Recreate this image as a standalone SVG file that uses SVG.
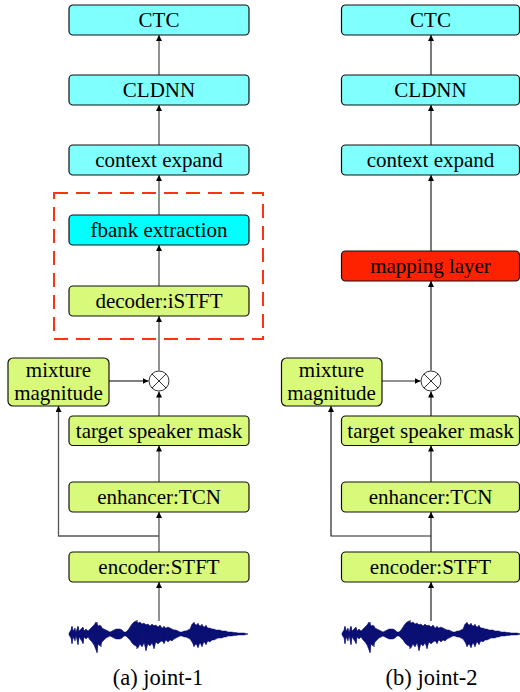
<svg xmlns="http://www.w3.org/2000/svg" width="520" height="692" viewBox="0 0 520 692">
<style>
.box{stroke:#111;stroke-width:1.2}
.cy{fill:#80FFFF}
.cy2{fill:#00FFFF}
.gr{fill:#D8F97A}
.rd{fill:#FF2200}
.cl{fill:none;stroke:#555;stroke-width:1.3}
.cr{fill:none;stroke:#222;stroke-width:1.2}
.mul{fill:#fff;stroke:#333;stroke-width:1}
.wave{fill:#0A0F73;stroke:#0A0F73;stroke-width:0.5;stroke-linejoin:round}
.sp{stroke:#0A0F73;stroke-width:1}
</style>
<defs>
<marker id="ah" viewBox="0 0 10 10" refX="10" refY="5" markerWidth="6" markerHeight="6" markerUnits="userSpaceOnUse" orient="auto">
<path d="M0,0 L10,5 L0,10 z" fill="#000"/>
</marker>
<g id="wv">
<path class="wave" d="M69,633 L71,630 L72,626 L73,631 L75,628 L76,632 L78,626 L79,631 L81,629 L83,627 L84,631 L86,629 L88,631 L90,629 L92,627 L94,625 L96,622 L97,624 L98,626 L100,625 L102,628 L104,629 L106,630 L108,631 L110,632 L112,631 L114,630 L116,629 L118,629 L120,629 L122,630 L124,632 L126,632 L128,630 L130,627 L132,624 L134,622 L136,621 L138,623 L140,622 L142,624 L144,623 L146,625 L148,624 L150,626 L152,624 L154,626 L156,625 L158,627 L160,625 L162,628 L164,627 L166,628 L168,627 L170,628 L172,629 L174,630 L176,630 L178,631 L180,632 L182,632 L184,631 L186,631 L188,630 L190,629 L192,624 L194,623 L196,625 L198,624 L200,626 L202,625 L204,627 L206,626 L208,628 L210,628 L212,629 L214,629 L216,630 L218,630 L220,630 L222,631 L224,631 L226,631 L228,632 L230,632 L232,632 L234,632.5 L236,632.5 L238,633 L240,633 L242,633 L244,633 L246,633.5 L248,634 L246,634.5 L244,635 L242,635 L240,635 L238,635 L236,635.5 L234,635.5 L232,636 L230,636 L228,636 L226,637 L224,637 L222,638 L220,638 L218,638 L216,639 L214,640 L212,640 L210,642 L208,641 L206,644 L204,642 L202,646 L200,643 L198,647 L196,644 L194,646 L192,642 L190,639 L188,638 L186,637 L184,637 L182,636 L180,636 L178,637 L176,638 L174,639 L172,641 L170,640 L168,642 L166,640 L164,643 L162,641 L160,642 L158,644 L156,642 L154,648 L152,643 L150,646 L148,644 L146,650 L144,643 L142,647 L140,644 L138,648 L136,646 L134,645 L132,643 L130,640 L128,638 L126,636 L124,636 L122,638 L120,639 L118,639 L116,639 L114,638 L112,637 L110,636 L108,637 L106,638 L104,640 L102,642 L100,646 L98,644 L97,652 L96,650 L94,645 L92,642 L90,640 L88,637 L86,639 L84,637 L83,643 L81,640 L79,637 L78,644 L76,636 L75,641 L73,637 L72,643 L71,638 L69,635 Z"/>
<path class="sp" d="M72,627 V644 M78,627 V645 M83,628 V644 M97,622 V653 M101,626 V647 M137,620 V649 M146,624 V651 M154,625 V649 M164,626 V644 M194,622 V647 M198,623 V648 M202,624 V647 M206,625 V645"/>
</g>
</defs>

<g id="connectors">
<g class="cl" marker-end="url(#ah)">
<line x1="159" y1="75" x2="159" y2="35"/>
<line x1="159" y1="145" x2="159" y2="105"/>
<line x1="159" y1="215" x2="159" y2="175"/>
<line x1="159" y1="286" x2="159" y2="245"/>
<line x1="159" y1="370.5" x2="159" y2="316"/>
<line x1="109" y1="381" x2="148.5" y2="381"/>
<line x1="159" y1="416" x2="159" y2="391.5"/>
<line x1="159" y1="482" x2="159" y2="445.5"/>
<line x1="159" y1="552" x2="159" y2="512"/>
<polyline points="159,536 58.5,536 58.5,406"/>
<line x1="159" y1="621" x2="159" y2="582"/>
</g>
<g class="cr" marker-end="url(#ah)">
<line x1="431" y1="75" x2="431" y2="35"/>
<line x1="431" y1="145" x2="431" y2="105"/>
<line x1="431" y1="251" x2="431" y2="175"/>
<line x1="431" y1="370.5" x2="431" y2="281"/>
<line x1="382" y1="381" x2="420.5" y2="381"/>
<line x1="431" y1="416" x2="431" y2="391.5"/>
<line x1="431" y1="482" x2="431" y2="445.5"/>
<line x1="431" y1="552" x2="431" y2="512"/>
<polyline points="431,536 331,536 331,406"/>
<line x1="431" y1="621" x2="431" y2="582"/>
</g>
</g>

<rect id="dashed-region" x="54" y="193" width="209" height="146" fill="none" stroke="#FF3311" stroke-width="2" stroke-dasharray="14 8"/>

<g font-family="Liberation Serif, Times New Roman, serif" font-size="21" text-anchor="middle" fill="#000">
<!-- left column -->
<g id="a-ctc"><rect class="box cy" x="69" y="5" width="180" height="30" rx="4"/><text x="159" y="27">CTC</text></g>
<g id="a-cldnn"><rect class="box cy" x="69" y="75" width="180" height="30" rx="4"/><text x="159" y="97">CLDNN</text></g>
<g id="a-context"><rect class="box cy" x="69" y="145" width="180" height="30" rx="4"/><text x="159" y="167">context expand</text></g>
<g id="a-fbank"><rect class="box cy2" x="69" y="215" width="180" height="30" rx="4"/><text x="159" y="237">fbank extraction</text></g>
<g id="a-decoder"><rect class="box gr" x="69" y="286" width="180" height="30" rx="4"/><text x="159" y="308">decoder:iSTFT</text></g>
<g id="a-mixture"><rect class="box gr" x="8" y="358" width="101" height="48" rx="5"/><text x="58.5" y="377">mixture</text><text x="58.5" y="400">magnitude</text></g>
<g id="a-mul"><circle class="mul" cx="159" cy="381" r="10"/><path d="M152,374 L166,388 M166,374 L152,388" stroke="#333" stroke-width="1"/></g>
<g id="a-mask"><rect class="box gr" x="69" y="416" width="180" height="29.5" rx="4"/><text x="159" y="438">target speaker mask</text></g>
<g id="a-enhancer"><rect class="box gr" x="69" y="482" width="180" height="30" rx="4"/><text x="159" y="504">enhancer:TCN</text></g>
<g id="a-encoder"><rect class="box gr" x="69" y="552" width="180" height="30" rx="4"/><text x="159" y="574">encoder:STFT</text></g>
<g id="a-wave"><use href="#wv"/></g>
<text x="158" y="685" font-size="22.5">(a) joint-1</text>

<!-- right column -->
<g id="b-ctc"><rect class="box cy" x="341.5" y="5" width="178" height="30" rx="4"/><text x="430.5" y="27">CTC</text></g>
<g id="b-cldnn"><rect class="box cy" x="341.5" y="75" width="178" height="30" rx="4"/><text x="430.5" y="97">CLDNN</text></g>
<g id="b-context"><rect class="box cy" x="341.5" y="145" width="178" height="30" rx="4"/><text x="430.5" y="167">context expand</text></g>
<g id="b-mapping"><rect class="box rd" x="341.5" y="251" width="178" height="30" rx="4"/><text x="430.5" y="273">mapping layer</text></g>
<g id="b-mixture"><rect class="box gr" x="281.5" y="358" width="100.5" height="48" rx="5"/><text x="331.5" y="377">mixture</text><text x="331.5" y="400">magnitude</text></g>
<g id="b-mul"><circle class="mul" cx="431" cy="381" r="10"/><path d="M424,374 L438,388 M438,374 L424,388" stroke="#333" stroke-width="1"/></g>
<g id="b-mask"><rect class="box gr" x="341.5" y="416" width="178" height="29.5" rx="4"/><text x="430.5" y="438">target speaker mask</text></g>
<g id="b-enhancer"><rect class="box gr" x="341.5" y="482" width="178" height="30" rx="4"/><text x="430.5" y="504">enhancer:TCN</text></g>
<g id="b-encoder"><rect class="box gr" x="341.5" y="552" width="178" height="30" rx="4"/><text x="430.5" y="574">encoder:STFT</text></g>
<g id="b-wave"><use href="#wv" transform="translate(273,0)"/></g>
<text x="431.5" y="685" font-size="22.5">(b) joint-2</text>
</g>
</svg>
